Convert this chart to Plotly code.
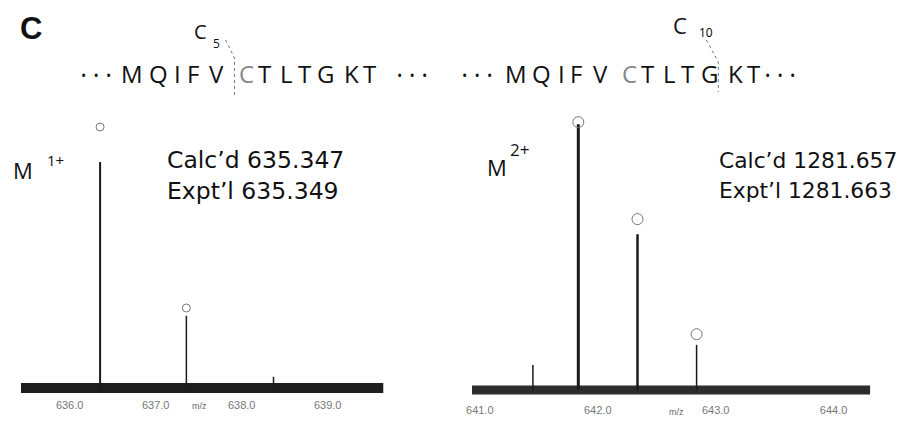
import plotly.graph_objects as go

# ---------------- data ----------------
left_mz = [636.354, 637.357, 638.37]
left_int = [100, 32, 5]
left_theo_mz = [636.354, 637.357]
left_theo_int = [115.5, 35.4]
left_ticks = [636.0, 637.0, 638.0, 639.0]
left_range = [635.434, 639.649]

right_mz = [641.45, 641.835, 642.337, 642.838]
right_int = [9.4, 100, 58.6, 17]
right_theo_mz = [641.835, 642.337, 642.838]
right_theo_int = [100.8, 64.3, 21]
right_ticks = [641.0, 642.0, 643.0, 644.0]
right_range = [640.933, 644.311]

sequence = "MQIFVCTLTGKT"
left_calc, left_expt = "635.347", "635.349"
right_calc, right_expt = "1281.657", "1281.663"

# ---------------- styles / layout helpers ----------------
left_widths = [2, 1.5, 1.5]
right_widths = [1.5, 3, 2.5, 1.5]

W, H = 904, 421
OFF_X, OFF_Y = 11, 8  # page offset of the plot inside the browser window
def px(x):
    return (x - OFF_X) / W
def py(y):
    return 1 - (y - OFF_Y) / H

fig = go.Figure()

def add_panel(mz, inten, widths, theo_mz, theo_int, xr, xa, ya, msize, bandw, bandc):
    fig.add_trace(go.Scatter(x=xr, y=[0, 0], mode="lines",
                             line=dict(color=bandc, width=bandw),
                             xaxis=xa, yaxis=ya, hoverinfo="skip"))
    for m, h, w in zip(mz, inten, widths):
        fig.add_trace(go.Scatter(x=[m, m], y=[0, h], mode="lines",
                                 line=dict(color="#1a1a1a", width=w),
                                 xaxis=xa, yaxis=ya, hoverinfo="skip"))
    fig.add_trace(go.Scatter(x=theo_mz, y=theo_int, mode="markers",
                             marker=dict(symbol="circle-open", size=msize,
                                         color="#777", line=dict(width=1)),
                             xaxis=xa, yaxis=ya, hoverinfo="skip"))

add_panel(left_mz, left_int, left_widths, left_theo_mz, left_theo_int,
          left_range, "x", "y", 8, 10, "#1e1e1e")
add_panel(right_mz, right_int, right_widths, right_theo_mz, right_theo_int,
          right_range, "x2", "y2", 11, 9, "#2c2c2c")

tickfont = dict(family="Liberation Sans, Arial", size=11, color="#777")

fig.update_layout(
    width=W, height=H,
    margin=dict(l=0, r=0, t=0, b=0),
    paper_bgcolor="white", plot_bgcolor="white",
    showlegend=False,
    xaxis=dict(domain=[px(18), px(383)], range=left_range,
               tickvals=left_ticks, ticktext=[f"{t:.1f}" for t in left_ticks],
               showgrid=False, zeroline=False, showline=False,
               ticks="outside", ticklen=1, tickcolor="rgba(0,0,0,0)",
               tickfont=tickfont, anchor="y"),
    yaxis=dict(domain=[py(394), py(101)], range=[-2.65, 127],
               visible=False, anchor="x"),
    xaxis2=dict(domain=[px(472), px(873)], range=right_range,
                tickvals=right_ticks, ticktext=[f"{t:.1f}" for t in right_ticks],
                showgrid=False, zeroline=False, showline=False,
                ticks="outside", ticklen=4, tickcolor="rgba(0,0,0,0)",
                tickfont=tickfont, anchor="y2"),
    yaxis2=dict(domain=[py(396), py(103)], range=[-2.26, 108],
                visible=False, anchor="x2"),
)

seq_font = "Open Sans, Noto Sans, sans-serif"
label_font = "DejaVu Sans, Verdana, sans-serif"
ann = []
def A(text, x, y, size, xanchor="center", yanchor="middle", color="#111",
      family=seq_font):
    ann.append(dict(text=text, x=px(x), y=py(y), xref="paper", yref="paper",
                    xanchor=xanchor, yanchor=yanchor, showarrow=False,
                    font=dict(size=size, color=color, family=family)))

A("<b>C</b>", 28, 28, 31, family="Liberation Sans, Arial")

# peptide sequence, letter by letter
letter_x = [132, 158, 178, 193, 217, 247, 265, 287, 305, 327, 353, 371]
dots = "•\u00a0\u00a0•\u00a0\u00a0•"
for shift, d1, d2 in ((-2, 94, 412), (384, 477, 782)):
    for i, (ch, lx) in enumerate(zip(sequence, letter_x)):
        col = "#888" if i == 5 else "#111"
        A(ch, lx + shift, 74, 24, color=col)
    A(dots, d1, 76, 14)
    A(dots, d2, 76, 14)

A("C", 199, 32, 20)
A("5", 215, 43, 12)
A("C", 681, 25, 22)
A("10", 708, 33, 12, color="#000")

A("M", 20, 170, 22)
A("1+", 53, 160, 15)
A("M", 497, 167, 22)
A("2+", 520, 149, 17)

A("Calc’d " + left_calc, 163, 160, 23.5, xanchor="left", family=label_font)
A("Expt’l " + left_expt, 163, 191, 23.5, xanchor="left", family=label_font)
A("Calc’d " + right_calc, 719, 160, 21.8, xanchor="left", family=label_font)
A("Expt’l " + right_expt, 719, 190, 21.8, xanchor="left", family=label_font)

A("m/z", 198, 406, 9, color="#666", family="Liberation Sans, Arial")
A("m/z", 678, 412, 9, color="#666", family="Liberation Sans, Arial")

fig.update_layout(annotations=ann)

shape_line = dict(color="#777", width=1, dash="dot")
fig.add_shape(type="path", xref="paper", yref="paper",
              path=f"M {px(224)} {py(40)} L {px(233)} {py(58)} L {px(233)} {py(96)}",
              line=shape_line)
fig.add_shape(type="path", xref="paper", yref="paper",
              path=f"M {px(708)} {py(40)} L {px(720)} {py(62)} L {px(720)} {py(92)}",
              line=shape_line)

fig.write_html("out.html")
